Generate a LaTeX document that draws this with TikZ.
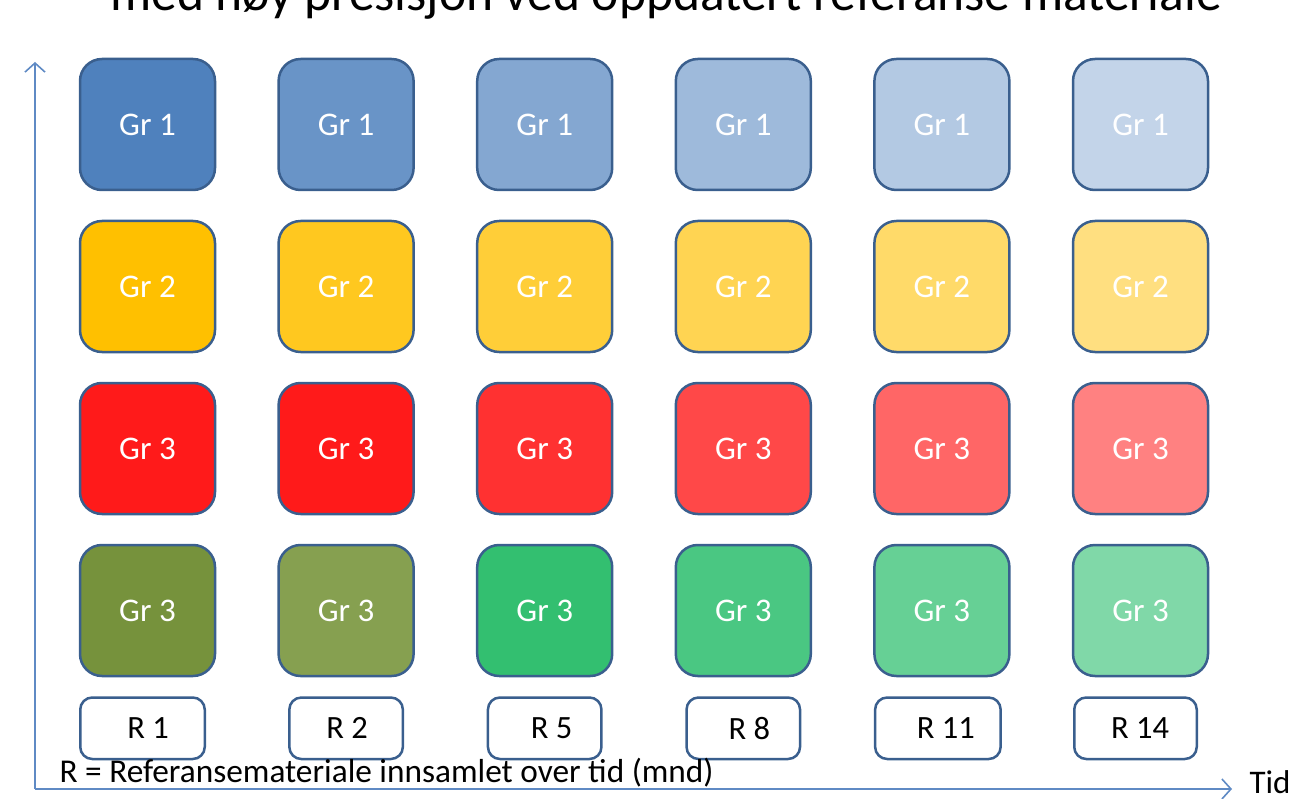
\documentclass[tikz,border=0pt]{standalone}
\usepackage{fontspec}
\setmainfont{Carlito}
\usetikzlibrary{arrows.meta,positioning}

\definecolor{frame}{HTML}{3A5F8E}
\definecolor{axisblue}{HTML}{5F8AC4}
\definecolor{blueA}{HTML}{4F81BD}
\definecolor{yellowA}{HTML}{FFC000}
\definecolor{redA}{HTML}{FF1A1A}
\definecolor{oliveA}{HTML}{76923C}
\definecolor{oliveB}{HTML}{86A050}
\definecolor{greenA}{HTML}{33BF70}
\definecolor{greenB}{HTML}{4AC782}
\definecolor{greenC}{HTML}{66D095}
\definecolor{greenD}{HTML}{80D8A8}

\begin{document}
\begin{tikzpicture}[x=1pt, y=-1pt, node distance=31pt and 63.6pt,
  group/.style={draw=frame, line width=2.5pt, outer sep=0pt, rounded corners=22pt, minimum width=135pt, minimum height=131pt, text=white, font=\fontsize{33}{38}\selectfont},
  refbox/.style={draw=frame, line width=2.5pt, outer sep=0pt, rounded corners=12pt, minimum width=113.5pt, minimum height=61.5pt, fill=white, font=\fontsize{32.5}{38}\selectfont},
  axis/.style={draw=axisblue, line width=1.6pt, -{Straight Barb[length=9pt, width=20pt, line width=1.6pt]}}]

\useasboundingbox (0,0) rectangle (1305,799);
\clip (0,0) rectangle (1305,799);

% title, cut off at the top
\node (title) [anchor=base, font=\fontsize{51.5}{56}\selectfont] at (666,11) {med høy presisjon ved oppdatert referanse materiale};

% axes
\coordinate (origin) at (35,789);
\coordinate (ytop) at (35,62);
\coordinate (xend) at (1232,789);
\draw[axis] (origin) -- (ytop);
\draw[axis] (origin) -- (xend);
\node (tid) [anchor=base west, font=\fontsize{33}{38}\selectfont] at (1246,793) {Tid};

% Gr 1
\node (b1) [group, fill=blueA] at (147.5,124.5) {Gr 1};
\node (b2) [group, fill=blueA!85!white, right=of b1] {Gr 1};
\node (b3) [group, fill=blueA!70!white, right=of b2] {Gr 1};
\node (b4) [group, fill=blueA!55!white, right=of b3] {Gr 1};
\node (b5) [group, fill=blueA!43!white, right=of b4] {Gr 1};
\node (b6) [group, fill=blueA!34!white, right=of b5] {Gr 1};

% Gr 2
\node (y1) [group, fill=yellowA, below=of b1] {Gr 2};
\node (y2) [group, fill=yellowA!88!white, below=of b2] {Gr 2};
\node (y3) [group, fill=yellowA!78!white, below=of b3] {Gr 2};
\node (y4) [group, fill=yellowA!68!white, below=of b4] {Gr 2};
\node (y5) [group, fill=yellowA!59!white, below=of b5] {Gr 2};
\node (y6) [group, fill=yellowA!50!white, below=of b6] {Gr 2};

% Gr 3
\node (r1) [group, fill=redA, below=of y1] {Gr 3};
\node (r2) [group, fill=redA, below=of y2] {Gr 3};
\node (r3) [group, fill=redA!90!white, below=of y3] {Gr 3};
\node (r4) [group, fill=redA!80!white, below=of y4] {Gr 3};
\node (r5) [group, fill=redA!67!white, below=of y5] {Gr 3};
\node (r6) [group, fill=redA!55!white, below=of y6] {Gr 3};

% Gr 3 (green row)
\node (g1) [group, fill=oliveA, below=of r1] {Gr 3};
\node (g2) [group, fill=oliveB, below=of r2] {Gr 3};
\node (g3) [group, fill=greenA, below=of r3] {Gr 3};
\node (g4) [group, fill=greenB, below=of r4] {Gr 3};
\node (g5) [group, fill=greenC, below=of r5] {Gr 3};
\node (g6) [group, fill=greenD, below=of r6] {Gr 3};

% reference samples
\node (ref1) [refbox, minimum width=124.5pt, below=21.5pt of g1, xshift=-5pt] {\hspace*{11pt}R 1};
\node (ref2) [refbox, below=21.5pt of g2] {\hspace*{2pt}R 2};
\node (ref5) [refbox, below=21.5pt of g3] {\hspace*{14pt}R 5};
\node (ref8) [refbox, below=21.5pt of g4] {\hspace*{12pt}R 8};
\node (ref11) [refbox, minimum width=125.5pt, below=21.5pt of g5, xshift=-4pt] {\hspace*{16pt}R 11};
\node (ref14) [refbox, minimum width=122.5pt, below=21.5pt of g6, xshift=-5pt] {\hspace*{9pt}R 14};

\node (legend) [anchor=base west, font=\fontsize{33.3}{38}\selectfont] at (56,782) {R = Referansemateriale innsamlet over tid (mnd)};

\end{tikzpicture}
\end{document}
